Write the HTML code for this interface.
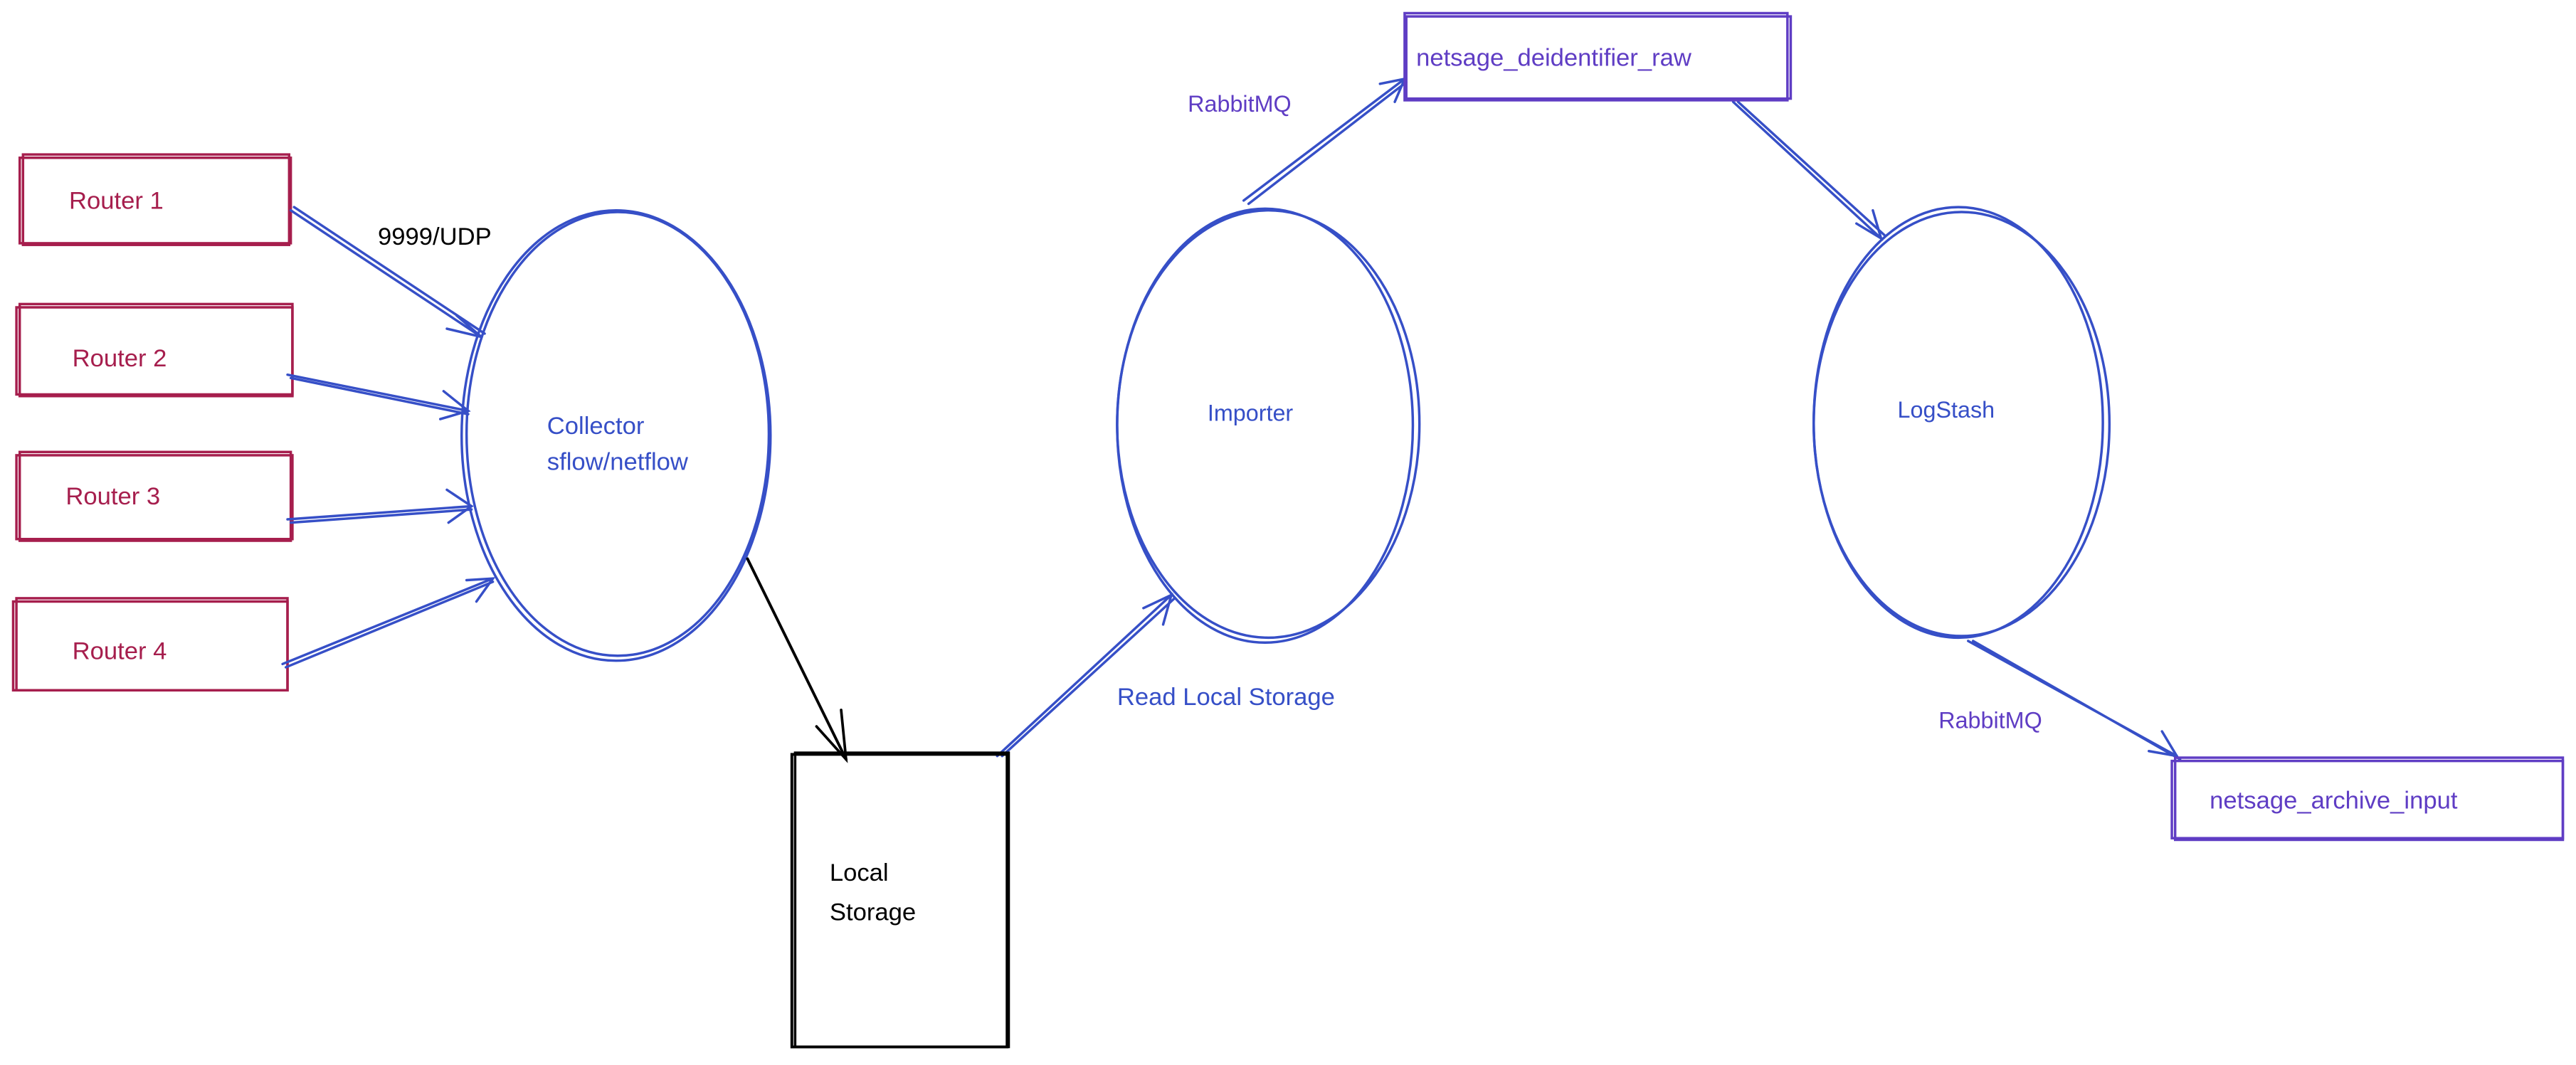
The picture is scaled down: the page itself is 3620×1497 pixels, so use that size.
<!DOCTYPE html>
<html><head><meta charset="utf-8"><style>
html,body{margin:0;padding:0;background:#fff;}
svg{display:block;}
text{font-family:"Liberation Sans",sans-serif;font-size:15px;}
</style></head><body>
<svg width="3620" height="1497" viewBox="0 0 1568 648" preserveAspectRatio="none" xmlns="http://www.w3.org/2000/svg">
<rect width="1568" height="648" fill="#fff"/>
<g fill="none" stroke-width="1.5" stroke-linecap="round">
<g stroke="#a61e4d">
<rect x="12" y="96" width="165" height="52"/><rect x="14" y="94" width="162" height="55"/>
<rect x="10" y="187" width="168" height="53"/><rect x="12" y="185" width="166" height="56"/>
<rect x="10" y="277" width="168" height="51"/><rect x="12" y="275" width="165" height="54"/>
<rect x="8" y="366" width="167" height="54"/><rect x="10" y="364" width="165" height="56"/>
</g>
<g stroke="#364fc7">
<ellipse cx="375" cy="265" rx="94" ry="137"/><ellipse cx="376" cy="264" rx="92" ry="135"/>
<ellipse cx="772" cy="258" rx="92" ry="130"/><ellipse cx="770" cy="259" rx="90" ry="132"/>
<ellipse cx="1194" cy="258" rx="90" ry="129"/><ellipse cx="1192" cy="257" rx="88" ry="131"/>
<path d="M177 128 L293 205 M179 126 L295 203"/><path d="M278 192 L293 205 L272 200"/>
<path d="M175 228 L285 250 M177 230 L285 252"/><path d="M270 238 L285 250 L268 255"/>
<path d="M175 316 L287 308 M177 318 L287 310"/><path d="M272 298 L287 308 L273 318"/>
<path d="M172 404 L300 352 M174 406 L300 354"/><path d="M284 353 L300 352 L290 366"/>
<path d="M607 460 L713 362 M610 460 L715 364"/><path d="M696 370 L713 362 L708 380"/>
<path d="M757 122 L855 48 M760 124 L856 50"/><path d="M840 51 L855 48 L849 62"/>
<path d="M1055 62 L1145 145 M1058 62 L1147 143"/><path d="M1130 136 L1145 145 L1140 128"/>
<path d="M1198 390 L1325 460 M1201 390 L1327 462"/><path d="M1308 457 L1325 460 L1316 445"/>
</g>
<g stroke="#000">
<path d="M455 340 L515 462" stroke-width="1.7"/><path d="M497 442 L515 462 L512 432" stroke-width="1.6"/>
<rect x="482" y="459" width="131" height="178" stroke-width="1.7"/><rect x="484" y="458" width="130" height="179"/>
</g>
<g stroke="#5f3dc4">
<rect x="856" y="10" width="234" height="50"/><rect x="855" y="8" width="233" height="53"/>
<rect x="1322" y="463" width="238" height="47"/><rect x="1324" y="461" width="236" height="50"/>
</g>
</g>
<g>
<text x="42" y="127" fill="#a61e4d">Router 1</text>
<text x="44" y="223" fill="#a61e4d">Router 2</text>
<text x="40" y="307" fill="#a61e4d">Router 3</text>
<text x="44" y="401" fill="#a61e4d">Router 4</text>
<text x="230" y="149" fill="#000">9999/UDP</text>
<text x="333" y="264" fill="#364fc7">Collector</text>
<text x="333" y="286" fill="#364fc7">sflow/netflow</text>
<text x="505" y="536" fill="#000">Local</text>
<text x="505" y="560" fill="#000">Storage</text>
<text x="680" y="429" fill="#364fc7">Read Local Storage</text>
<text x="735" y="256" fill="#364fc7" style="font-size:14px">Importer</text>
<text x="1155" y="254" fill="#364fc7" style="font-size:14px">LogStash</text>
<text x="723" y="68" fill="#5f3dc4" style="font-size:14px">RabbitMQ</text>
<text x="1180" y="443" fill="#5f3dc4" style="font-size:14px">RabbitMQ</text>
<text x="862" y="40" fill="#5f3dc4">netsage_deidentifier_raw</text>
<text x="1345" y="492" fill="#5f3dc4">netsage_archive_input</text>
</g>
</svg>
</body></html>
